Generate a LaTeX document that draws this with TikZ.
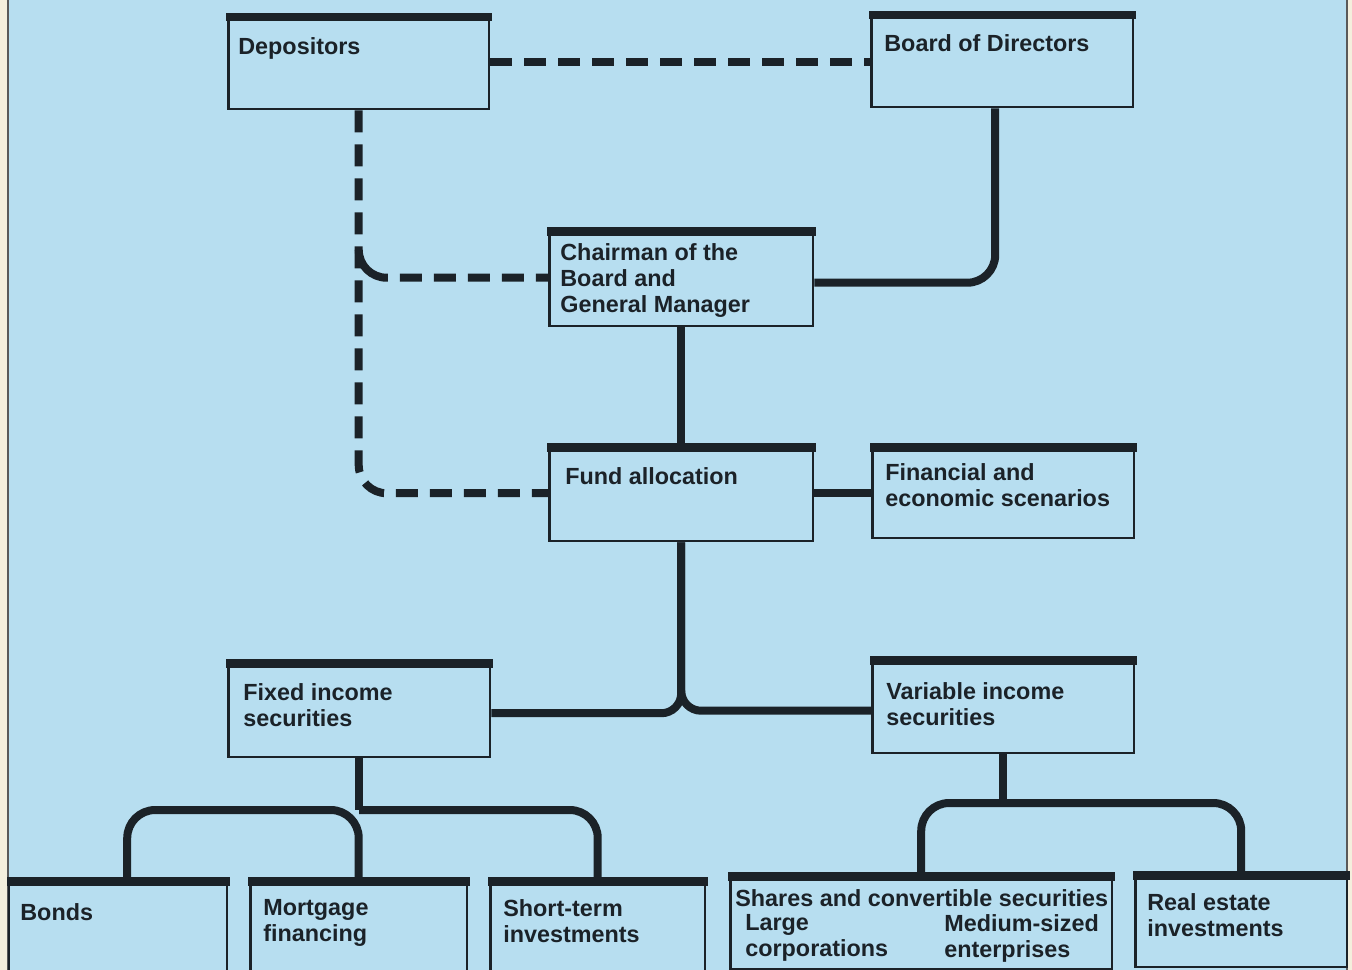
\documentclass[tikz,border=0pt]{standalone}
\usepackage{fontspec}
\setmainfont{Liberation Sans}
\definecolor{ink}{RGB}{27,34,40}
\definecolor{sky}{RGB}{183,222,240}
\definecolor{paper}{RGB}{244,239,221}
\begin{document}
\begin{tikzpicture}[x=0.02cm,y=-0.02cm,
  box/.style={draw=ink,line width=.05cm,anchor=north west,inner sep=0pt},
  txt/.style={anchor=north west,inner sep=0pt,align=left,text=ink,
    font=\bfseries\fontsize{13.3}{14.8}\selectfont},
  link/.style={draw=ink,line width=.16cm,rounded corners=.56cm},
  dashlink/.style={link,dash pattern=on .44cm off .24cm}]
\useasboundingbox (0,0) rectangle (1352,970);
\clip (0,0) rectangle (1352,970);
\fill[paper] (0,0) rectangle (1352,970);
\fill[sky] (8,0) rectangle (1347,970);
\draw[gray!70!black,line width=.04cm] (8,0)--(8,970) (1347,0)--(1347,970);

% boxes
\node[box,minimum width=5.22cm,minimum height=1.88cm] (dep) at (227,14) {};
\node[box,minimum width=5.24cm,minimum height=1.88cm] (bod) at (870,12) {};
\node[box,minimum width=5.28cm,minimum height=1.94cm] (chm) at (548,228) {};
\node[box,minimum width=5.28cm,minimum height=1.92cm] (fund) at (548,444) {};
\node[box,minimum width=5.24cm,minimum height=1.86cm] (scen) at (871,444) {};
\node[box,minimum width=5.24cm,minimum height=1.92cm] (fix) at (227,660) {};
\node[box,minimum width=5.24cm,minimum height=1.90cm] (var) at (871,657) {};
\node[box,minimum width=4.36cm,minimum height=2.0cm] (bond) at (8,878) {};
\node[box,minimum width=4.34cm,minimum height=2.0cm] (mort) at (249,878) {};
\node[box,minimum width=4.30cm,minimum height=2.0cm] (short) at (489,878) {};
\node[box,minimum width=7.64cm,minimum height=1.90cm] (share) at (729,873) {};
\node[box,minimum width=4.24cm,minimum height=1.88cm] (real) at (1134,872) {};
\foreach \b in {dep,bod,chm,fund,scen,fix,var,bond,mort,short,share,real}
  \fill[ink] ([xshift=-.025cm,yshift=.025cm]\b.north west) rectangle ([xshift=.025cm,yshift=-.15cm]\b.north east);

% texts
\node[txt] (dep-t) at (238,37) {Depositors};
\node[txt] (bod-t) at (884,34) {Board of Directors};
\node[txt] (chm-t) at (560,243) {Chairman of the\\Board and\\General Manager};
\node[txt] (fund-t) at (565,467) {Fund allocation};
\node[txt] (scen-t) at (885,463) {Financial and\\economic scenarios};
\node[txt] (fix-t) at (243,683) {Fixed income\\securities};
\node[txt] (var-t) at (886,682) {Variable income\\securities};
\node[txt] (bond-t) at (20,903) {Bonds};
\node[txt] (mort-t) at (263,899) {Mortgage\\financing};
\node[txt] (short-t) at (503,899) {Short-term\\investments};
\node[txt] (share-t) at (735,889) {Shares and convertible securities};
\node[txt] (large-t) at (745,914) {Large\\corporations};
\node[txt] (medium-t) at (944,914) {Medium-sized\\enterprises};
\node[txt] (real-t) at (1147,893) {Real estate\\investments};

% connectors
\draw[dashlink] (dep.east) -- (dep.east -| bod.west);
\draw[dashlink] (dep.south) |- (fund.west);
\draw[link,dash pattern=on .9cm off .24cm on .44cm off .24cm on .44cm off .24cm on .44cm off .24cm on .44cm off .24cm]
  ([yshift=.56cm]dep.south |- chm.west) |- (chm.west);
\draw[link] ([xshift=-.14cm]bod.south) |- ([yshift=-.1cm]chm.east);
\draw[link] (chm.south) -- (fund.north);
\draw[link] (fund.east) -- (fund.east -| scen.west);
\draw[link,rounded corners=.4cm] (fund.south) |- ([yshift=-.08cm]fix.east);
\draw[link,rounded corners=.4cm] (fund.south) |- ([yshift=-.1cm]var.west);
\coordinate (fixbar) at (fix.south |- 0,810);
\coordinate (varbar) at (var.south |- 0,803);
\draw[link] (fix.south) -- (fixbar);
\draw[link] ([xshift=.18cm]bond.north) |- (mort.north |- fixbar) -- (mort.north);
\draw[link] (fixbar) -| (short.north);
\draw[link] (var.south) -- (varbar);
\draw[link] (share.north) |- (varbar) -| (real.north);

\end{tikzpicture}
\end{document}
